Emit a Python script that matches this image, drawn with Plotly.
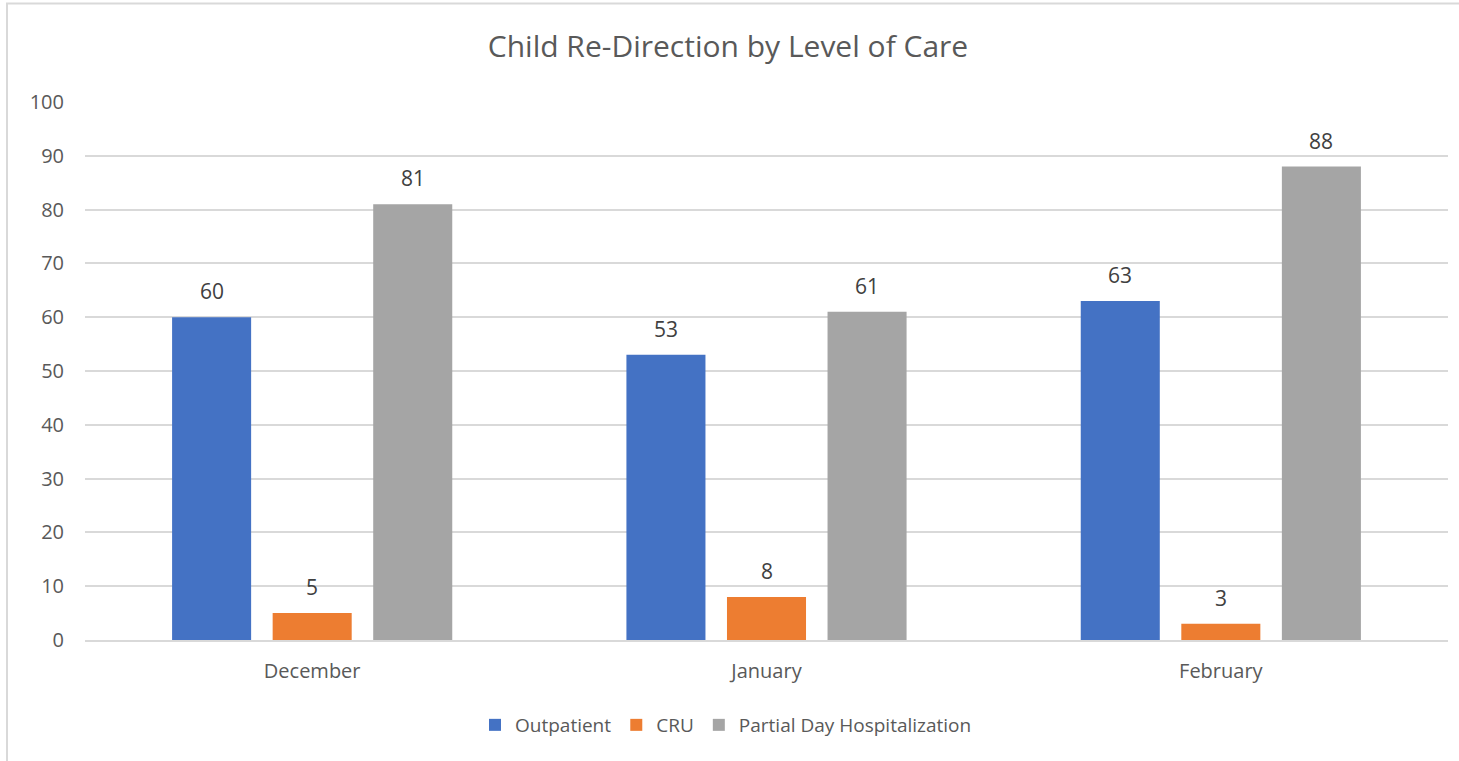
import plotly.graph_objects as go

months = ["December", "January", "February"]
outpatient = [60, 53, 63]
cru = [5, 8, 3]
partial = [81, 61, 88]
series_names = ["Outpatient", "CRU", "Partial Day Hospitalization"]
colors = ["#4472C4", "#ED7D31", "#A5A5A5"]
y_ticks = [0, 10, 20, 30, 40, 50, 60, 70, 80, 90, 100]

FONT = "Segoe UI, Open Sans, sans-serif"
TXT = "#595959"
BARGAP = 0.336

fig = go.Figure()
all_series = [outpatient, cru, partial]
for name, vals, col in zip(series_names, all_series, colors):
    fig.add_trace(go.Bar(name=name, x=months, y=vals, marker_color=col,
                         marker_line_width=0))

slot = (1 - BARGAP) / len(all_series)
for j, vals in enumerate(all_series):
    for i, v in enumerate(vals):
        fig.add_annotation(x=i + (j - 1) * slot, y=v, text=str(v), showarrow=False,
                           yanchor="middle", yshift=26, xref="x", yref="y",
                           font=dict(family=FONT, size=21, color="#404040"))

# chart border
L, R, T, B = 85, 11, 102, 121
W, H = 1459 - L - R, 761 - T - B
fig.add_shape(type="rect", xref="paper", yref="paper",
              x0=(7 - L) / W, x1=(1470 - L) / W,
              y0=(H + T - 765) / H, y1=(H + T - 3.5) / H,
              line=dict(color="#D9D9D9", width=2), layer="below")

fig.update_layout(
    width=1459, height=761,
    margin=dict(l=L, r=R, t=T, b=B, autoexpand=False),
    paper_bgcolor="white", plot_bgcolor="white",
    barmode="group", bargap=BARGAP, bargroupgap=0.214,
    title=dict(text="Child Re-Direction by Level of Care", x=(728 - L) / W, xref="paper",
               xanchor="center", y=1 - 46 / 761, yanchor="middle",
               font=dict(family=FONT, size=30, color=TXT)),
    legend=dict(orientation="h", x=(726 - L) / W, xanchor="center",
                y=(H + T - 725) / H, yanchor="middle",
                font=dict(family=FONT, size=19, color=TXT),
                itemwidth=30, tracegroupgap=0),
    showlegend=True,
    font=dict(family=FONT, color=TXT),
)
fig.update_xaxes(showgrid=False, showline=True, linecolor="#D9D9D9", linewidth=1.5,
                 ticks="", tickfont=dict(family=FONT, size=20, color=TXT),
                 ticklabelstandoff=12, range=[-0.5, 2.5])
fig.update_yaxes(range=[0, 100], tickvals=y_ticks, showgrid=True, gridcolor="#D9D9D9",
                 gridwidth=1.5, zeroline=False, showline=False, ticks="",
                 tickfont=dict(family=FONT, size=20, color=TXT), ticklabelstandoff=20)

fig.write_html("out.html")
